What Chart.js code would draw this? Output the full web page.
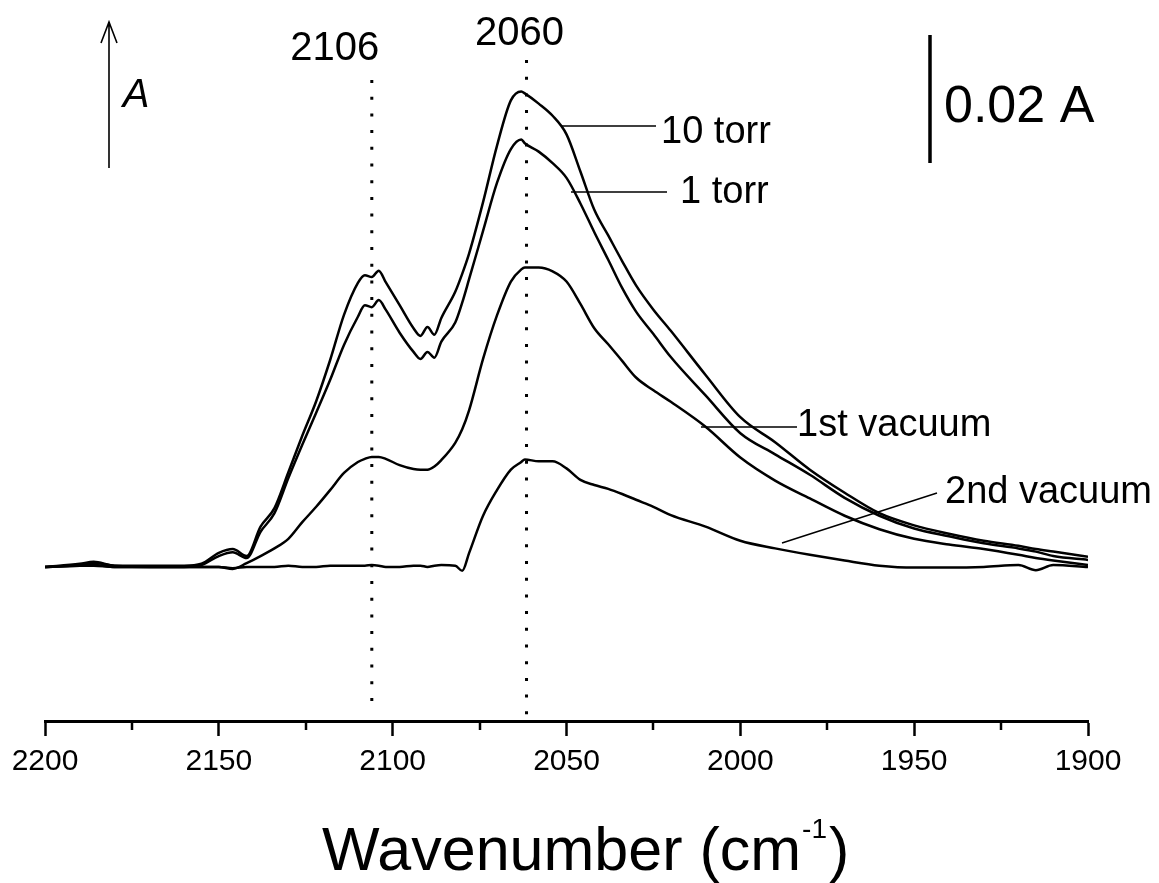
<!DOCTYPE html>
<html>
<head>
<meta charset="utf-8">
<title>CO adsorption spectra</title>
<script src="https://cdn.jsdelivr.net/npm/chart.js@4/dist/chart.umd.min.js"></script>
<style>
  body { margin: 0; background: #fff; }
  #wrap { width: 1159px; height: 883px; }
</style>
</head>
<body>
<div id="wrap"><canvas id="grafico" width="1159" height="883"></canvas></div>
<script>
// wavenumber grid (cm-1), values in mA (0.02 A = 20)
var wn = [2200, 2190, 2186, 2180, 2170, 2160, 2155, 2150, 2146, 2142,
          2138, 2134, 2130, 2126, 2122, 2118, 2114, 2110, 2108, 2106,
          2104, 2102, 2098, 2094, 2092, 2090, 2088, 2086, 2082, 2080,
          2078, 2074, 2070, 2066, 2063, 2062, 2058, 2054, 2050, 2046,
          2042, 2038, 2034, 2030, 2025, 2020, 2010, 2000, 1990, 1980,
          1970, 1960, 1950, 1940, 1930, 1920, 1915, 1910, 1900]

var torr10 = [0, 0.5, 0.8, 0.2, 0.2, 0.2, 0.5, 2.2, 2.8, 1.7,
              6.3, 9.2, 14.8, 20.5, 25.9, 32.3, 39.4, 44.4, 45.6, 45.3,
              46.3, 44.5, 40.9, 37.3, 36.1, 37.5, 36.3, 38.9, 43.0, 45.8,
              49.0, 57.0, 65.8, 72.9, 74.3, 74.0, 72.4, 70.5, 67.6, 61.8,
              55.8, 51.8, 47.8, 44.0, 40.2, 36.9, 30.0, 23.4, 19.5, 15.2,
              11.6, 8.4, 6.5, 5.2, 4.1, 3.3, 2.8, 2.4, 1.6]

var torr1 = [0, 0.3, 0.6, 0.2, 0, 0, 0.3, 1.7, 2.3, 1.4,
             5.5, 8.4, 13.9, 19.1, 24.1, 29.2, 34.7, 39.1, 40.9, 40.6,
             41.7, 40.2, 36.6, 33.6, 32.5, 33.6, 32.7, 35.2, 38.2, 41.3,
             45.0, 52.5, 60.0, 65.3, 66.8, 66.2, 64.9, 63.1, 60.8, 56.8,
             52.3, 48.0, 43.6, 39.9, 36.4, 32.8, 26.8, 20.9, 17.6, 14.4,
             10.8, 8.0, 6.0, 4.8, 3.7, 2.9, 2.4, 1.7, 1.1]

var vacuo1 = [0, 0.2, 0.3, 0, 0, 0, 0, 0, -0.3, 0.6,
              1.7, 2.9, 4.4, 7.0, 9.4, 12.0, 14.7, 16.4, 16.9, 17.2,
              17.2, 16.9, 15.9, 15.3, 15.2, 15.2, 15.7, 16.7, 19.4, 21.5,
              24.5, 32.5, 39.3, 44.6, 46.5, 46.8, 46.8, 46.2, 44.6, 41.1,
              37.3, 34.8, 32.2, 29.6, 27.6, 25.8, 21.9, 17.1, 13.5, 10.7,
              8.0, 5.9, 4.4, 3.5, 2.8, 1.9, 1.4, 1.0, 0.3]

var vacuo2 = [0, 0.2, 0.2, 0, 0, 0, 0, 0, -0.2, 0,
              0, 0, 0.2, 0, 0, 0.2, 0.2, 0.2, 0.2, 0.3,
              0.2, 0, 0, 0.2, 0.2, 0, 0.2, 0.3, 0.2, -0.6,
              2.2, 8.0, 12.0, 15.2, 16.4, 16.8, 16.5, 16.5, 15.4, 13.6,
              12.8, 12.2, 11.4, 10.5, 9.4, 8.1, 6.3, 4.1, 2.9, 1.9,
              1.0, 0.2, -0.1, -0.1, 0, 0.3, -0.5, 0.3, 0]

var picos = [2106, 2061.5]
var picosTexto = ['2106', '2060']
var minorTicks = [2175, 2125, 2075, 2025, 1975, 1925]

var fonte = '"Liberation Sans", Arial, sans-serif'

function pontos(serie){
    return wn.map(function(w, i){ return {x: w, y: serie[i]} })
}

function linha(nome, serie){
    return {
        label: nome,
        data: pontos(serie),
        borderColor: '#000',
        borderWidth: 2.5,
        pointRadius: 0,
        cubicInterpolationMode: 'monotone',
        fill: false
    }
}

var anotacoes = {
    id: 'anotacoes',
    afterDraw: function(chart){
        var ctx = chart.ctx
        var sx = chart.scales.x
        var area = chart.chartArea
        ctx.save()

        // minor ticks
        ctx.strokeStyle = '#000'
        ctx.lineWidth = 2.5
        minorTicks.forEach(function(t){
            var px = Math.round(sx.getPixelForValue(t))
            ctx.beginPath()
            ctx.moveTo(px, area.bottom)
            ctx.lineTo(px, area.bottom + 9)
            ctx.stroke()
        })

        // dotted lines at the peaks
        ctx.lineWidth = 3
        ctx.setLineDash([3, 13.7])
        var tops = [80, 60]
        var bottoms = [708, 716]
        picos.forEach(function(p, i){
            var px = sx.getPixelForValue(p)
            ctx.beginPath()
            ctx.moveTo(px, tops[i])
            ctx.lineTo(px, bottoms[i])
            ctx.stroke()
        })
        ctx.setLineDash([])

        ctx.fillStyle = '#000'
        ctx.textBaseline = 'alphabetic'
        ctx.font = '40px ' + fonte
        ctx.textAlign = 'center'
        ctx.fillText(picosTexto[0], sx.getPixelForValue(picos[0]) - 37, 60)
        ctx.fillText(picosTexto[1], sx.getPixelForValue(picos[1]) - 7, 45)

        // A arrow
        ctx.lineWidth = 1.6
        ctx.beginPath()
        ctx.moveTo(109, 168)
        ctx.lineTo(109, 22)
        ctx.moveTo(101, 43)
        ctx.lineTo(109, 22)
        ctx.lineTo(117, 43)
        ctx.stroke()
        ctx.font = 'italic 40px ' + fonte
        ctx.fillText('A', 136, 107)

        // scale bar
        ctx.lineWidth = 3.5
        ctx.beginPath()
        ctx.moveTo(930, 35)
        ctx.lineTo(930, 163)
        ctx.stroke()
        ctx.textAlign = 'left'
        ctx.font = '52px ' + fonte
        ctx.fillText('0.02 A', 944, 122)

        // curve labels
        ctx.lineWidth = 1.5
        ctx.beginPath()
        ctx.moveTo(561, 126); ctx.lineTo(656, 126)
        ctx.moveTo(571, 192); ctx.lineTo(667, 192)
        ctx.moveTo(701, 427); ctx.lineTo(797, 427)
        ctx.moveTo(782, 543); ctx.lineTo(937, 493)
        ctx.stroke()
        ctx.font = '38px ' + fonte
        ctx.fillText('10 torr', 661, 143)
        ctx.fillText('1 torr', 680, 203)
        ctx.fillText('1st vacuum', 797, 436)
        ctx.fillText('2nd vacuum', 945, 503)

        // axis title with superscript
        ctx.font = '61px ' + fonte
        var t1 = 'Wavenumber (cm'
        var x0 = 322
        ctx.fillText(t1, x0, 870)
        var w1 = ctx.measureText(t1).width
        ctx.font = '28px ' + fonte
        ctx.fillText('-1', x0 + w1 + 1, 838)
        var w2 = ctx.measureText('-1').width
        ctx.font = '61px ' + fonte
        ctx.fillText(')', x0 + w1 + w2 + 3, 870)

        ctx.restore()
    }
}

var ctx = document.getElementById('grafico')
new Chart(ctx, {
    type: 'line',
    data: {
        datasets: [
            linha('10 torr', torr10),
            linha('1 torr', torr1),
            linha('1st vacuum', vacuo1),
            linha('2nd vacuum', vacuo2)
        ]
    },
    options: {
        responsive: false,
        animation: false,
        events: [],
        layout: { padding: { left: 45, right: 71, top: 0, bottom: 0 } },
        plugins: {
            legend: { display: false },
            tooltip: { enabled: false },
            title: { display: false }
        },
        scales: {
            x: {
                type: 'linear',
                reverse: true,
                min: 1900,
                max: 2200,
                afterFit: function(scale){ scale.height = 162 },
                border: { display: true, color: '#000', width: 3 },
                grid: {
                    display: true,
                    drawOnChartArea: false,
                    drawTicks: true,
                    tickLength: 15,
                    tickWidth: 2.5,
                    tickColor: '#000'
                },
                ticks: {
                    stepSize: 50,
                    autoSkip: false,
                    maxRotation: 0,
                    padding: 8,
                    color: '#000',
                    font: { family: fonte, size: 30 },
                    callback: function(valor){ return String(valor) }
                }
            },
            y: {
                display: false,
                min: -24.07,
                max: 88.59
            }
        }
    },
    plugins: [anotacoes]
})
</script>
</body>
</html>
